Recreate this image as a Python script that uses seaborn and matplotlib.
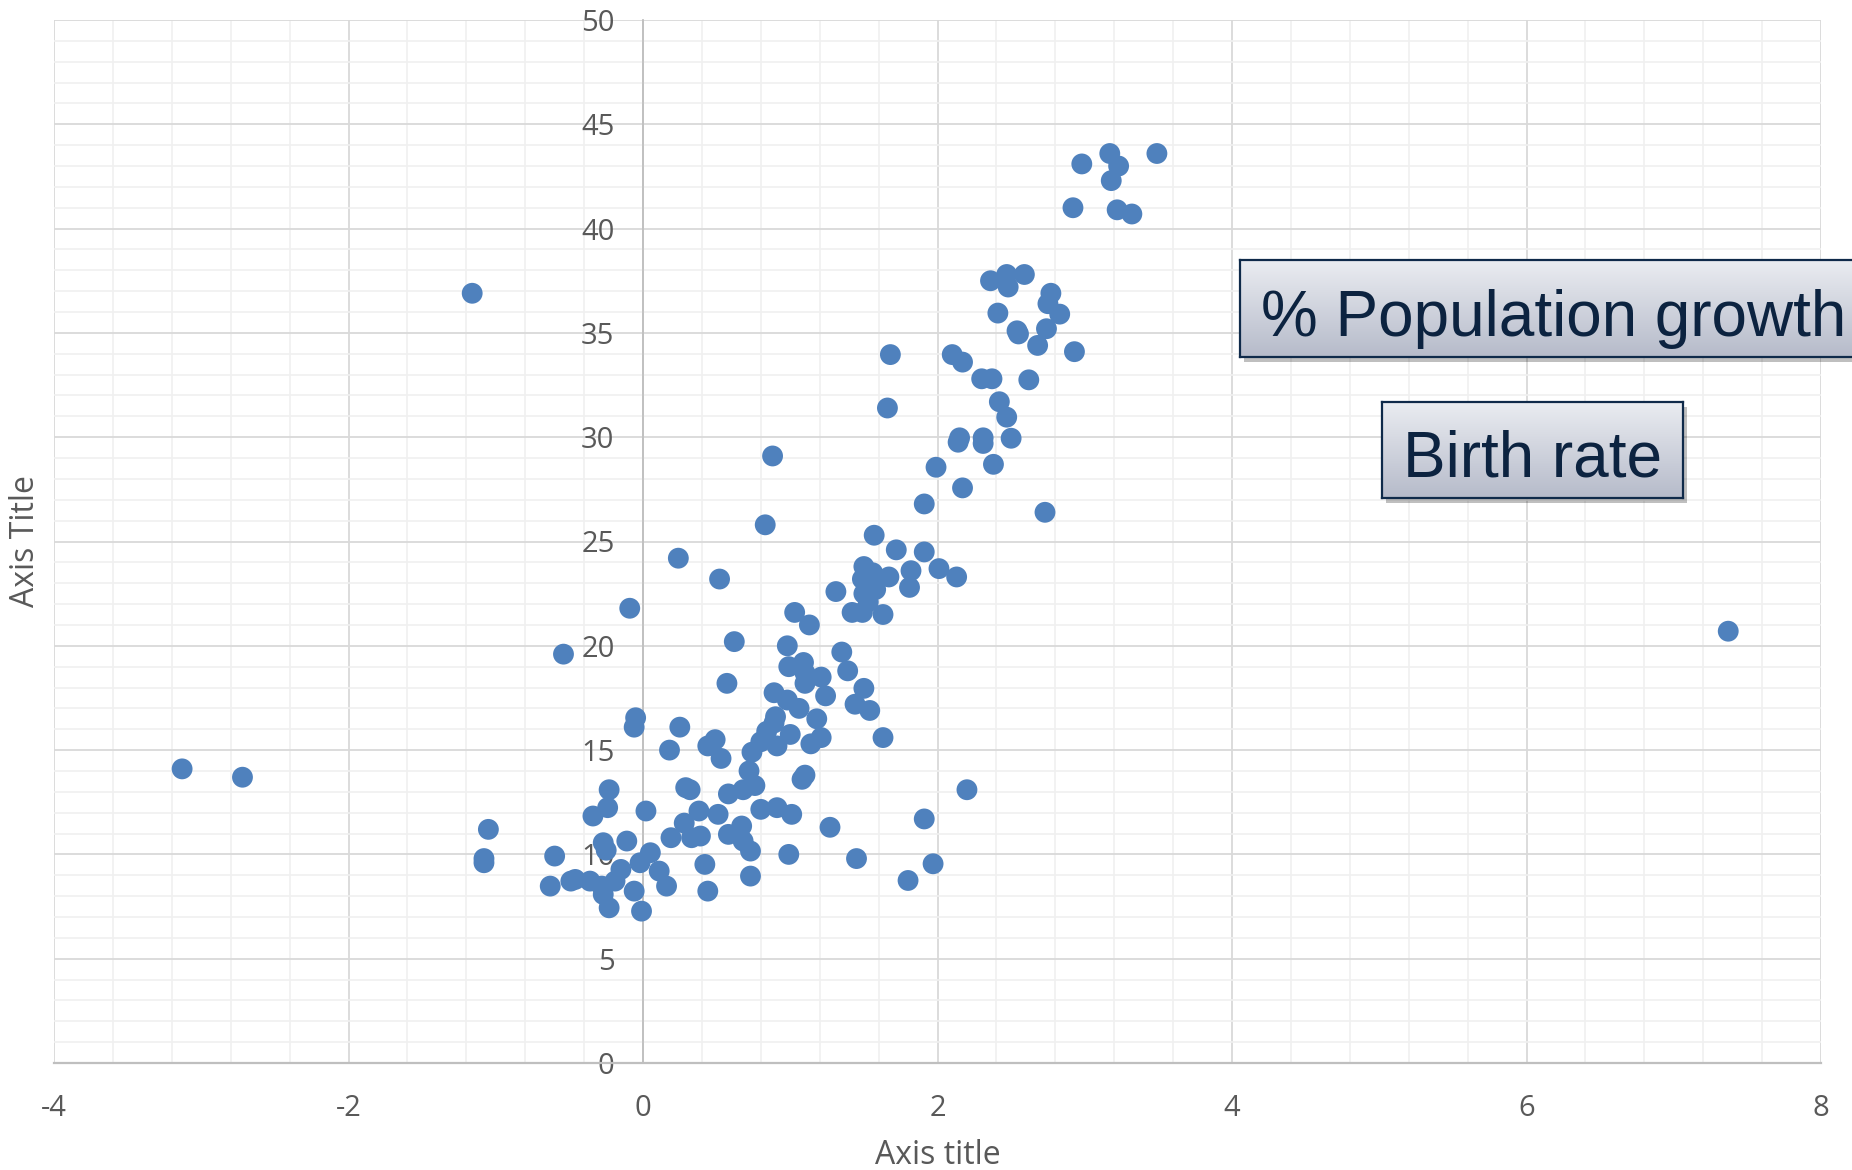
import matplotlib
matplotlib.use("Agg")
import matplotlib.pyplot as plt
import seaborn as sns
import numpy as np
import pandas as pd
from matplotlib.ticker import MultipleLocator
from matplotlib.colors import LinearSegmentedColormap
from matplotlib.patches import Rectangle

# % population growth (x) and birth rate (y)
growth = [
    -3.13, -2.72, -1.16, -1.05, -1.08, -1.08, 7.37,
    2.98, 3.17, 3.23, 3.18, 3.49, 2.92, 3.22, 3.32,
    2.36, 2.47, 2.48, 2.59, 2.77, 2.75, 2.83, 2.41, 2.74, 2.54, 2.55, 2.68, 2.93,
    1.68, 2.10, 2.17, 2.30, 2.37, 2.62, 1.66, 2.42, 2.47, 2.15, 2.14, 2.31, 2.31,
    2.50, 1.99, 2.38, 2.17, 1.91, 2.73, 1.57, 0.88,
    0.83, 0.24, 1.72, 1.91, 0.52,
    1.50, 1.49, 1.56, 1.50, 1.58, 1.53, 1.67, 1.82, 1.81, 2.01, 2.13, 1.42, 1.49, 1.63, 1.31,
    -0.09, 1.03, 1.13, 0.62, -0.54, 0.98, 1.35, 1.39, 0.57,
    0.99, 1.09, 1.10, 1.21, 1.10, 1.24, 1.18, 0.89, 0.98, 1.06, 1.50, 1.44, 1.54, 1.63,
    0.90, 0.89, 0.84, 1.00, 0.91, 0.80, 0.74, 1.14, 1.21, 1.10, 1.08,
    -0.05, -0.06, 0.25, 0.18, 0.44, 0.49, 0.53, 0.72, 0.76, 0.68, 0.58, 0.29, 0.32,
    -0.23, 2.20, 1.27, 1.91, 1.45, 1.80, 1.97,
    -0.60, -0.63, -0.49, -0.46, -0.34, -0.24, 0.02, -0.27, -0.11, -0.25, -0.36, -0.28,
    -0.15, -0.19, -0.27, -0.06, -0.23, -0.01, -0.02, 0.05, 0.11, 0.16, 0.19, 0.28,
    0.33, 0.39, 0.38, 0.51, 0.42, 0.44, 0.58, 0.67, 0.68, 0.73, 0.73, 0.80, 0.99,
    1.01, 0.91,
]
birth = [
    14.1, 13.7, 36.9, 11.2, 9.8, 9.6, 20.7,
    43.1, 43.6, 43.0, 42.3, 43.6, 41.0, 40.9, 40.7,
    37.5, 37.8, 37.2, 37.8, 36.9, 36.4, 35.9, 35.95, 35.2, 35.1, 34.95, 34.4, 34.1,
    33.96, 33.96, 33.6, 32.8, 32.8, 32.75, 31.4, 31.7, 30.96, 29.97, 29.76, 29.97, 29.7,
    29.95, 28.56, 28.7, 27.57, 26.8, 26.4, 25.3, 29.1,
    25.8, 24.2, 24.6, 24.5, 23.2,
    23.8, 23.2, 23.5, 22.5, 22.7, 22.1, 23.3, 23.6, 22.8, 23.7, 23.3, 21.6, 21.6, 21.5, 22.6,
    21.8, 21.6, 21.0, 20.2, 19.6, 20.0, 19.7, 18.8, 18.2,
    19.0, 19.2, 18.7, 18.5, 18.2, 17.6, 16.5, 17.75, 17.4, 17.0, 17.96, 17.2, 16.9, 15.6,
    16.6, 16.3, 15.9, 15.75, 15.2, 15.4, 14.9, 15.3, 15.6, 13.8, 13.6,
    16.55, 16.1, 16.1, 15.0, 15.2, 15.5, 14.6, 14.0, 13.3, 13.1, 12.9, 13.2, 13.1,
    13.1, 13.1, 11.3, 11.7, 9.8, 8.75, 9.55,
    9.92, 8.48, 8.72, 8.8, 11.84, 12.24, 12.08, 10.56, 10.64, 10.2, 8.72, 8.48,
    9.28, 8.72, 8.08, 8.24, 7.44, 7.28, 9.6, 10.08, 9.2, 8.48, 10.8, 11.5,
    10.8, 10.88, 12.08, 11.92, 9.52, 8.24, 10.96, 11.36, 10.64, 10.16, 8.96, 12.16, 10.0,
    11.92, 12.24,
]

x_ticks = [-4, -2, 0, 2, 4, 6, 8]
y_ticks = [0, 5, 10, 15, 20, 25, 30, 35, 40, 45, 50]
x_title = "Axis title"
y_title = "Axis Title"
box_labels = ["% Population growth", "Birth rate"]

df = pd.DataFrame({"growth": growth, "birth": birth})

sns.set_style("white")
plt.rcParams['font.family'] = ['Open Sans', 'DejaVu Sans']
plt.rcParams['axes.unicode_minus'] = False

GRAY_TXT = '#595959'
AXIS_COL = '#bfbfbf'

fig = plt.figure(figsize=(18.52, 11.70), dpi=100)
ax = fig.add_axes([54 / 1852, 107 / 1170, 1767 / 1852, 1043 / 1170])

sns.scatterplot(data=df, x="growth", y="birth", ax=ax, s=225,
                color='#4f81bd', edgecolor='none', linewidth=0, zorder=3)

ax.set_xlim(-4, 8)
ax.set_ylim(0, 50)
ax.set_xticks(x_ticks)
ax.set_yticks(y_ticks)
ax.set_xticklabels([str(t) for t in x_ticks])
ax.set_yticklabels([str(t) for t in y_ticks])
ax.xaxis.set_minor_locator(MultipleLocator(0.4))
ax.yaxis.set_minor_locator(MultipleLocator(1))

ax.set_axisbelow(True)
ax.grid(which='minor', color='#f0f0f0', linewidth=1.2)
ax.grid(which='major', color='#d9d9d9', linewidth=1.3)

for s in ['top', 'right']:
    ax.spines[s].set_visible(False)
ax.spines['left'].set_position(('data', 0))
ax.spines['left'].set_color(AXIS_COL)
ax.spines['left'].set_linewidth(1.3)
ax.spines['bottom'].set_color(AXIS_COL)
ax.spines['bottom'].set_linewidth(1.6)

ax.tick_params(axis='x', which='major', direction='out', length=8, width=1,
               color=AXIS_COL, labelcolor=GRAY_TXT, labelsize=21, pad=14)
ax.tick_params(axis='y', which='major', direction='out', length=6.5, width=1,
               color=AXIS_COL, labelcolor=GRAY_TXT, labelsize=21, pad=14)
ax.tick_params(which='minor', length=0)

ax.set_xlabel('')
ax.set_ylabel('')
fig.text(938 / 1852, 1 - 1155 / 1170, x_title, ha='center', va='center',
         fontsize=23, color=GRAY_TXT)
fig.text(26 / 1852, 1 - 541 / 1170, y_title, ha='center', va='center',
         rotation=90, fontsize=23, color=GRAY_TXT)

# gradient label boxes
grad = LinearSegmentedColormap.from_list('box', ['#eaecf1', '#b6bbca'])
boxes = [
    # left, top, right, bottom (pixels), text x (axes frac), ha
    (1240, 260, 1900, 357, 0.032, 'left'),
    (1382, 402, 1683, 498, 0.5, 'center'),
]
for (l, t, r, b, tx, ha), label in zip(boxes, box_labels):
    shadow = Rectangle((l / 1852 + 4 / 1852, 1 - b / 1170 - 5 / 1170),
                       (r - l) / 1852, (b - t) / 1170,
                       transform=fig.transFigure, facecolor='#000000',
                       alpha=0.25, edgecolor='none', zorder=4)
    fig.patches.append(shadow)
    bax = fig.add_axes([l / 1852, 1 - b / 1170, (r - l) / 1852, (b - t) / 1170])
    bax.set_zorder(5)
    bax.imshow(np.linspace(0, 1, 100).reshape(-1, 1), aspect='auto', cmap=grad,
               extent=[0, 1, 0, 1], origin='upper')
    bax.set_xlim(0, 1)
    bax.set_ylim(0, 1)
    bax.set_xticks([])
    bax.set_yticks([])
    for s in bax.spines.values():
        s.set_color('#0f2a4a')
        s.set_linewidth(1.6)
    bax.text(tx, 0.22, label, ha=ha, va='baseline', fontsize=46,
             color='#0c2340', family=['Liberation Sans', 'DejaVu Sans'])

fig.savefig('out.png', dpi=100)
